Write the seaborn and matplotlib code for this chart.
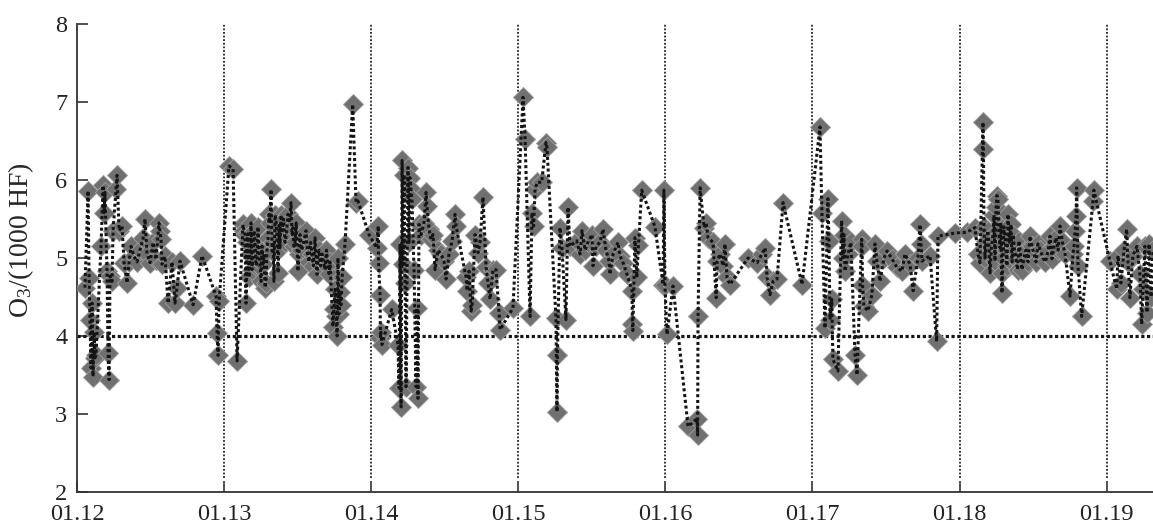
import matplotlib
matplotlib.use("Agg")
import matplotlib.pyplot as plt
import numpy as np
import pandas as pd
import seaborn as sns

sns.set_style("ticks")
plt.rcParams["font.family"] = ["Liberation Serif", "DejaVu Serif"]
plt.rcParams["mathtext.default"] = "regular"

# ---------------- data ----------------
days = [
    # 01.12
    12.054, 12.075, 12.082, 12.088, 12.095, 12.102, 12.109, 12.116, 12.122, 12.129,
    12.163, 12.177, 12.184, 12.190, 12.204, 12.211, 12.218, 12.224, 12.238, 12.245,
    12.265, 12.272, 12.286, 12.306, 12.320, 12.340, 12.354, 12.367, 12.387, 12.408,
    12.428, 12.449, 12.462, 12.476, 12.496, 12.517, 12.537, 12.557, 12.564, 12.571,
    12.578, 12.598, 12.619, 12.646, 12.666, 12.680, 12.700, 12.789, 12.850, 12.945,
    12.952, 12.959, 12.966, 13.033, 13.061, 13.088,
    # 01.13
    13.128, 13.135, 13.142, 13.149, 13.155, 13.162, 13.169, 13.175, 13.183, 13.190,
    13.196, 13.203, 13.210, 13.217, 13.224, 13.230, 13.237, 13.245, 13.251, 13.258,
    13.264, 13.271, 13.278, 13.285, 13.292, 13.299, 13.305, 13.312, 13.319, 13.326,
    13.333, 13.339, 13.346, 13.353, 13.360, 13.367, 13.374, 13.380, 13.387, 13.394,
    13.404, 13.414, 13.424, 13.434, 13.445, 13.455, 13.462, 13.468, 13.475, 13.482,
    13.490, 13.502, 13.509, 13.516, 13.526, 13.536, 13.546, 13.557, 13.567, 13.577,
    13.588, 13.597, 13.607, 13.618, 13.625, 13.632, 13.638, 13.645, 13.656, 13.666,
    13.676, 13.686, 13.696, 13.706, 13.713, 13.720, 13.740, 13.747, 13.754, 13.761,
    13.768, 13.774, 13.781, 13.788, 13.795, 13.802, 13.822, 13.874, 13.897, 13.910,
    13.985,
    # 01.14
    14.037, 14.048, 14.050, 14.060, 14.063, 14.066, 14.073, 14.139, 14.182, 14.189,
    14.196, 14.203, 14.210, 14.216, 14.223, 14.230, 14.237, 14.250, 14.257, 14.264,
    14.271, 14.277, 14.291, 14.305, 14.311, 14.318, 14.325, 14.339, 14.359, 14.373,
    14.379, 14.393, 14.407, 14.420, 14.434, 14.454, 14.474, 14.495, 14.509, 14.529,
    14.550, 14.570, 14.577, 14.645, 14.652, 14.665, 14.679, 14.686, 14.706, 14.727,
    14.740, 14.760, 14.781, 14.794, 14.808, 14.828, 14.849, 14.869, 14.876, 14.964,
    # 01.15
    15.032, 15.046, 15.080, 15.093, 15.104, 15.114, 15.128, 15.159, 15.188, 15.195,
    15.256, 15.263, 15.266, 15.283, 15.297, 15.324, 15.338, 15.351,
    15.397, 15.420, 15.433, 15.454, 15.474, 15.501, 15.508, 15.528, 15.555, 15.576,
    15.596, 15.617, 15.623, 15.644, 15.678, 15.691, 15.712, 15.739, 15.773, 15.776,
    15.779, 15.793, 15.806, 15.817, 15.839, 15.929, 15.984, 15.990, 15.997,
    # 01.16
    16.011, 16.052, 16.154, 16.215, 16.219, 16.222, 16.236, 16.263, 16.277, 16.290,
    16.324, 16.345, 16.352, 16.372, 16.392, 16.405, 16.419, 16.439, 16.562, 16.623,
    16.657, 16.678, 16.691, 16.711, 16.732, 16.759, 16.800, 16.929,
    # 01.17
    17.051, 17.064, 17.085, 17.105, 17.112, 17.119, 17.131, 17.139, 17.173, 17.198,
    17.207, 17.214, 17.221, 17.241, 17.261, 17.289, 17.303, 17.334, 17.337, 17.340,
    17.350, 17.377, 17.404, 17.425, 17.438, 17.459, 17.486, 17.507, 17.540, 17.574,
    17.608, 17.629, 17.663, 17.684, 17.717, 17.731, 17.738, 17.744, 17.799, 17.844,
    17.853, 17.969,
    # 01.18
    18.050, 18.105, 18.125, 18.139, 18.159, 18.162, 18.166, 18.173, 18.180, 18.193,
    18.207, 18.217, 18.227, 18.234, 18.241, 18.248, 18.254, 18.261, 18.268, 18.275,
    18.281, 18.286, 18.288, 18.295, 18.302, 18.309, 18.316, 18.322, 18.329, 18.340,
    18.350, 18.357, 18.363, 18.374, 18.384, 18.394, 18.404, 18.414, 18.424, 18.438,
    18.451, 18.465, 18.479, 18.492, 18.506, 18.520, 18.533, 18.550, 18.567, 18.584,
    18.601, 18.615, 18.628, 18.642, 18.655, 18.670, 18.683, 18.700, 18.717, 18.751,
    18.771, 18.778, 18.785, 18.792, 18.796, 18.805, 18.830, 18.907, 18.913,
    # 01.19
    19.022, 19.068, 19.077, 19.097, 19.118, 19.136, 19.145, 19.158, 19.178, 19.206,
    19.226, 19.238, 19.247, 19.260, 19.274, 19.288, 19.302, 19.315,
]
o3 = [
    # 01.12
    4.62, 5.86, 4.74, 4.21, 3.59, 4.42, 3.48, 4.05, 3.72, 3.75,
    5.15, 5.93, 5.58, 5.84, 4.83, 3.78, 3.44, 4.77, 4.70, 5.35,
    5.88, 6.06, 5.35, 5.41, 4.94, 4.68, 4.95, 5.15, 5.02, 4.95,
    5.10, 5.25, 5.50, 5.05, 4.94, 5.20, 4.98, 5.45, 5.35, 5.24,
    4.92, 5.02, 4.42, 4.95, 4.42, 4.62, 4.96, 4.40, 5.03, 4.51,
    4.04, 3.75, 4.45, 6.18, 6.14, 3.68,
    # 01.13
    5.43, 5.35, 5.30, 4.42, 5.20, 5.31, 4.75, 5.05, 5.45, 4.85,
    5.00, 5.35, 5.22, 4.90, 4.96, 5.40, 5.10, 4.88, 4.70, 5.15,
    4.92, 5.05, 4.62, 4.68, 5.15, 5.25, 5.56, 5.45, 5.88, 5.09,
    5.20, 4.70, 5.55, 5.48, 5.25, 4.81, 5.42, 5.13, 5.55, 5.35,
    5.50, 5.20, 5.30, 5.56, 5.48, 5.71, 5.30, 5.39, 5.15, 5.20,
    5.45, 4.83, 5.05, 5.30, 5.10, 5.15, 5.25, 5.35, 5.05, 4.95,
    5.20, 5.05, 4.90, 5.26, 5.00, 4.79, 5.05, 5.10, 4.90, 5.05,
    4.95, 4.85, 5.10, 4.88, 4.80, 4.95, 4.12, 4.35, 4.60, 4.25,
    4.00, 5.00, 4.28, 4.56, 4.40, 4.75, 5.18, 6.97, 5.71, 5.73,
    5.30,
    # 01.14
    5.13, 5.41, 4.94, 4.53, 3.97, 4.05, 3.89, 4.34, 3.89, 3.33,
    5.18, 3.09, 6.25, 4.92, 6.07, 4.68, 3.35, 6.16, 5.20, 6.03,
    5.88, 5.75, 4.85, 3.35, 4.36, 3.20, 5.43, 5.30, 5.45, 5.84,
    5.67, 5.37, 5.24, 5.30, 4.85, 5.10, 5.05, 4.96, 4.73, 5.05,
    5.22, 5.56, 5.41, 4.75, 4.58, 4.83, 4.32, 4.40, 5.30, 5.07,
    5.20, 5.78, 4.88, 4.68, 4.47, 4.85, 4.85, 4.30, 4.08, 4.36,
    # 01.15
    7.06, 6.53, 4.25, 5.58, 5.41, 5.88, 5.97, 5.97, 6.48, 6.42,
    4.23, 3.03, 3.76, 5.39, 5.13, 4.21, 5.65, 5.15,
    5.22, 5.05, 5.35, 5.10, 5.20, 5.30, 4.90, 5.15, 5.20, 5.37,
    5.10, 4.96, 4.79, 5.05, 5.20, 5.03, 4.94, 4.79, 4.58, 4.15,
    4.07, 5.26, 4.75, 5.17, 5.87, 5.40, 4.66, 5.87, 4.66,
    # 01.16
    4.02, 4.64, 2.84, 2.94, 2.73, 4.25, 5.90, 5.39, 5.45, 5.26,
    5.20, 4.49, 4.96, 5.05, 4.90, 5.18, 4.75, 4.66, 5.00, 4.94,
    5.05, 5.13, 4.75, 4.53, 4.70, 4.73, 5.71, 4.66,
    # 01.17
    6.68, 5.58, 4.10, 5.76, 5.22, 4.21, 4.47, 3.70, 3.55, 5.48,
    5.00, 5.30, 4.83, 5.05, 5.20, 3.76, 3.50, 5.24, 5.15, 4.66,
    4.38, 4.32, 4.53, 5.18, 4.96, 4.70, 5.00, 5.09, 4.99, 4.88,
    4.83, 5.05, 4.92, 4.58, 5.00, 5.43, 5.18, 4.96, 5.03, 3.93,
    5.28, 5.32,
    # 01.18
    5.33, 5.39, 5.05, 4.94, 6.74, 6.40, 5.40, 5.00, 5.22, 5.35,
    4.81, 5.15, 5.30, 5.55, 4.96, 5.65, 5.80, 5.75, 5.30, 5.13,
    5.45, 4.81, 4.55, 5.00, 5.40, 5.25, 5.10, 4.90, 5.56, 5.20,
    5.43, 4.95, 5.30, 5.10, 4.99, 4.85, 5.22, 5.05, 4.85, 5.00,
    5.10, 4.95, 5.28, 5.15, 5.05, 4.95, 5.18, 5.10, 5.00, 4.95,
    5.09, 5.28, 4.99, 5.15, 5.26, 5.10, 5.41, 5.20, 5.05, 4.51,
    5.05, 5.15, 5.35, 5.54, 5.90, 4.90, 4.25, 5.73, 5.87,
    # 01.19
    4.96, 4.60, 5.03, 4.68, 5.10, 5.37, 4.95, 4.49, 5.03, 5.15,
    4.79, 4.15, 4.60, 5.15, 4.30, 5.18, 4.50, 5.10,
]
day_ticks = [12, 13, 14, 15, 16, 17, 18, 19]
tick_labels = ["01.12", "01.13", "01.14", "01.15", "01.16", "01.17", "01.18", "01.19"]
y_ticks = [2, 3, 4, 5, 6, 7, 8]
threshold = 4.0

df = pd.DataFrame({"day": days, "o3": o3})

fig = plt.figure(figsize=(11.53, 5.25), dpi=100)
ax = fig.add_axes([0.0668, 0.0629, 0.9332, 0.8914])

for d in day_ticks[1:]:
    ax.axvline(d, ymin=0.03, ymax=1.0, color="#222222", lw=1.3,
               ls=(0, (1, 1)), zorder=1)
ax.axhline(threshold, color="#151515", lw=2.3, ls=(0, (1, 0.8)), zorder=1)

sns.scatterplot(data=df, x="day", y="o3", marker="D", s=105, color="#707070",
                edgecolor="#a0a0a0", linewidth=0.6, zorder=3, ax=ax, legend=False)
sns.lineplot(data=df, x="day", y="o3", sort=False, estimator=None,
             color="#141414", lw=2.2, ls=(0, (1, 0.9)), zorder=4, ax=ax)

ax.set_xlim(12, 19.315)
ax.set_ylim(2, 8)
ax.set_xticks(day_ticks)
ax.set_xticklabels(tick_labels)
ax.set_yticks(y_ticks)
ax.set_xlabel("")
ax.set_ylabel("O$_3$/(1000 HF)", fontsize=20)
ax.yaxis.set_label_coords(-0.038, 0.538)
ax.tick_params(direction="in", length=8, width=1.2, labelsize=17.5,
               color="#333333", labelcolor="#222222")
ax.tick_params(axis="y", pad=7)
ax.tick_params(axis="x", pad=9)
for side in ["top", "right"]:
    ax.spines[side].set_visible(False)
for side in ["left", "bottom"]:
    ax.spines[side].set_linewidth(1.3)
    ax.spines[side].set_color("#333333")

fig.savefig("out.png", dpi=100)
